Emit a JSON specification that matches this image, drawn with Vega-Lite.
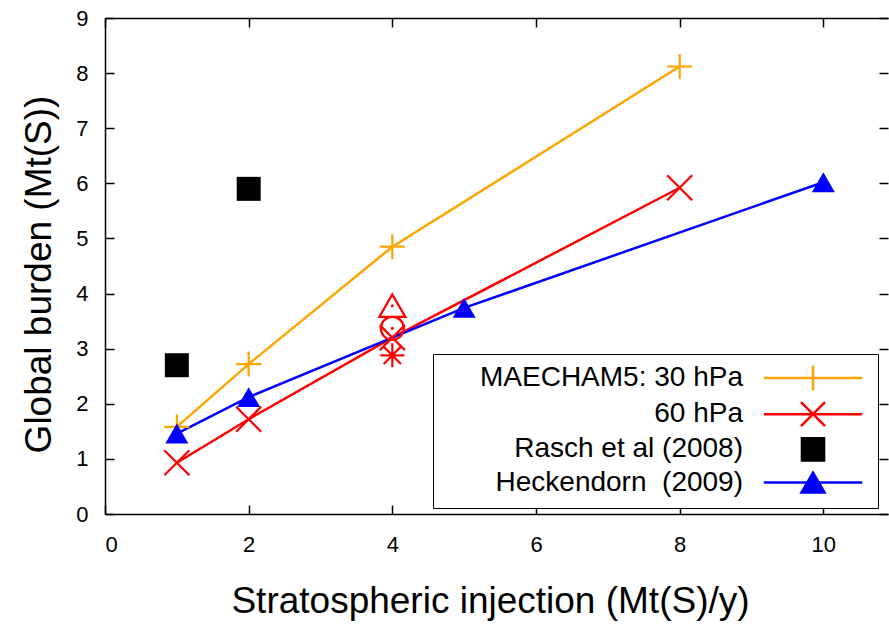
{
  "$schema": "https://vega.github.io/schema/vega-lite/v6.json",
  "width": 783,
  "height": 496,
  "autosize": "none",
  "padding": {"left": 105, "top": 18, "right": 1, "bottom": 114},
  "background": "white",
  "config": {
    "view": {"stroke": null},
    "font": "Liberation Sans",
    "axis": {
      "grid": false,
      "domainColor": "black",
      "tickColor": "black",
      "domainWidth": 1.5,
      "tickWidth": 1.5,
      "labelColor": "black",
      "titleColor": "black",
      "labelFont": "Liberation Sans",
      "titleFont": "Liberation Sans",
      "titleFontWeight": "normal"
    }
  },
  "datasets": {
    "main": [
      {"series": "MAECHAM5: 30 hPa", "x": 1, "y": 1.58},
      {"series": "MAECHAM5: 30 hPa", "x": 2, "y": 2.72},
      {"series": "MAECHAM5: 30 hPa", "x": 4, "y": 4.85},
      {"series": "MAECHAM5: 30 hPa", "x": 8, "y": 8.12},
      {"series": "60 hPa", "x": 1, "y": 0.93},
      {"series": "60 hPa", "x": 2, "y": 1.72},
      {"series": "60 hPa", "x": 4, "y": 3.2},
      {"series": "60 hPa", "x": 8, "y": 5.92},
      {"series": "Rasch et al (2008)", "x": 1, "y": 2.7},
      {"series": "Rasch et al (2008)", "x": 2, "y": 5.9},
      {"series": "Heckendorn\u00a0 (2009)", "x": 1, "y": 1.46},
      {"series": "Heckendorn\u00a0 (2009)", "x": 2, "y": 2.12},
      {"series": "Heckendorn\u00a0 (2009)", "x": 5, "y": 3.74},
      {"series": "Heckendorn\u00a0 (2009)", "x": 10, "y": 6.02}
    ],
    "sens": [
      {"marker": "triangle", "x": 4, "y": 3.78},
      {"marker": "circle", "x": 4, "y": 3.37},
      {"marker": "asterisk", "x": 4, "y": 2.88}
    ]
  },
  "layer": [
    {
      "data": {"name": "main"},
      "transform": [{"filter": "datum.series !== 'Rasch et al (2008)'"}],
      "mark": {"type": "line", "strokeWidth": 2.5},
      "encoding": {
        "x": {
          "field": "x", "type": "quantitative",
          "scale": {"domain": [0, 10.9], "nice": false, "zero": false},
          "axis": {
            "orient": "bottom", "values": [0, 2, 4, 6, 8, 10], "tickSize": -9,
            "labelFontSize": 22, "labelPadding": 29,
            "title": "Stratospheric injection (Mt(S)/y)", "titleFontSize": 37,
            "titleX": 385, "titleY": 98, "titleBaseline": "alphabetic", "titleAlign": "center"
          }
        },
        "y": {
          "field": "y", "type": "quantitative",
          "scale": {"domain": [0, 9], "nice": false, "zero": false},
          "axis": {
            "orient": "left", "values": [0, 1, 2, 3, 4, 5, 6, 7, 8, 9], "tickSize": -9,
            "labelFontSize": 22, "labelPadding": 26,
            "title": "Global burden (Mt(S))", "titleFontSize": 37,
            "titleX": -55, "titleY": 256, "titleAngle": -90, "titleBaseline": "alphabetic", "titleAlign": "center"
          }
        },
        "color": {
          "field": "series", "type": "nominal",
          "scale": {
            "domain": ["MAECHAM5: 30 hPa", "60 hPa", "Rasch et al (2008)", "Heckendorn\u00a0 (2009)"],
            "range": ["#ffa500", "#ff0000", "#000000", "#0000ff"]
          },
          "legend": {
            "orient": "none", "legendX": 328, "legendY": 336, "title": null,
            "padding": 10, "strokeColor": "black", "fillColor": "white",
            "labelFont": "Liberation Sans", "labelFontSize": 28, "labelColor": "black",
            "labelAlign": "right", "labelLimit": 400, "labelOffset": -84,
            "symbolOffset": 356, "symbolSize": 576, "symbolStrokeWidth": 2.5,
            "rowPadding": 1.2,
            "encode": {
              "symbols": {
                "update": {
                  "shape": {"signal": "datum.value==='MAECHAM5: 30 hPa' ? 'M-4.1,0H4.1M0,-1.05V1.05' : datum.value==='60 hPa' ? 'M-4.1,0H4.1M-1,-1L1,1M-1,1L1,-1' : datum.value==='Rasch et al (2008)' ? 'M-0.92,-0.92H0.92V0.92H-0.92Z' : 'M-4.1,0H4.1M0,-0.83L0.96,0.83L-0.96,0.83Z'"},
                  "fill": {"signal": "datum.value==='Rasch et al (2008)' ? '#000000' : datum.value==='MAECHAM5: 30 hPa' ? 'transparent' : datum.value==='60 hPa' ? 'transparent' : '#0000ff'"},
                  "stroke": {"signal": "datum.value==='MAECHAM5: 30 hPa' ? '#ffa500' : datum.value==='60 hPa' ? '#ff0000' : datum.value==='Rasch et al (2008)' ? '#000000' : '#0000ff'"},
                  "strokeWidth": {"value": 2.5},
                  "opacity": {"value": 1}
                }
              }
            }
          }
        }
      }
    },
    {
      "data": {"name": "main"},
      "transform": [{"filter": "datum.series === 'MAECHAM5: 30 hPa'"}],
      "mark": {"type": "point", "shape": "M-1,0H1M0,-1V1", "size": 625, "filled": false, "color": "#ffa500", "strokeWidth": 2.2, "opacity": 1},
      "encoding": {
        "x": {"field": "x", "type": "quantitative", "axis": {"orient": "top", "values": [0, 2, 4, 6, 8, 10], "tickSize": -9, "labels": false, "title": null}},
        "y": {"field": "y", "type": "quantitative", "axis": {"orient": "right", "values": [0, 1, 2, 3, 4, 5, 6, 7, 8, 9], "tickSize": -9, "labels": false, "title": null, "domain": false}}
      }
    },
    {
      "data": {"name": "main"},
      "transform": [{"filter": "datum.series === '60 hPa'"}],
      "mark": {"type": "point", "shape": "M-1,-1L1,1M-1,1L1,-1", "size": 625, "filled": false, "color": "#ff0000", "strokeWidth": 2.2, "opacity": 1},
      "encoding": {
        "x": {"field": "x", "type": "quantitative", "axis": null},
        "y": {"field": "y", "type": "quantitative", "axis": null}
      }
    },
    {
      "data": {"name": "main"},
      "transform": [{"filter": "datum.series === 'Rasch et al (2008)'"}],
      "mark": {"type": "point", "shape": "square", "size": 576, "filled": true, "color": "#000000", "opacity": 1},
      "encoding": {
        "x": {"field": "x", "type": "quantitative", "axis": null},
        "y": {"field": "y", "type": "quantitative", "axis": null}
      }
    },
    {
      "data": {"name": "main"},
      "transform": [{"filter": "datum.series === 'Heckendorn\u00a0 (2009)'"}],
      "mark": {"type": "point", "shape": "triangle-up", "size": 529, "filled": true, "color": "#0000ff", "opacity": 1},
      "encoding": {
        "x": {"field": "x", "type": "quantitative", "axis": null},
        "y": {"field": "y", "type": "quantitative", "axis": null}
      }
    },
    {
      "data": {"name": "sens"},
      "transform": [{"filter": "datum.marker === 'triangle'"}],
      "mark": {"type": "point", "shape": "triangle-up", "size": 676, "filled": false, "color": "#ff0000", "strokeWidth": 2.2, "opacity": 1},
      "encoding": {
        "x": {"field": "x", "type": "quantitative", "axis": null},
        "y": {"field": "y", "type": "quantitative", "axis": null}
      }
    },
    {
      "data": {"name": "sens"},
      "transform": [{"filter": "datum.marker === 'circle'"}],
      "mark": {"type": "point", "shape": "circle", "size": 529, "filled": false, "color": "#ff0000", "strokeWidth": 2.2, "opacity": 1},
      "encoding": {
        "x": {"field": "x", "type": "quantitative", "axis": null},
        "y": {"field": "y", "type": "quantitative", "axis": null}
      }
    },
    {
      "data": {"name": "sens"},
      "transform": [{"filter": "datum.marker === 'asterisk'"}],
      "mark": {"type": "point", "shape": "M-1,0H1M0,-1V1M-0.72,-0.72L0.72,0.72M-0.72,0.72L0.72,-0.72", "size": 576, "filled": false, "color": "#ff0000", "strokeWidth": 2.2, "opacity": 1},
      "encoding": {
        "x": {"field": "x", "type": "quantitative", "axis": null},
        "y": {"field": "y", "type": "quantitative", "axis": null}
      }
    },
    {
      "data": {"name": "sens"},
      "transform": [{"filter": "datum.marker !== 'asterisk'"}],
      "mark": {"type": "point", "shape": "circle", "size": 9, "filled": true, "color": "#ff0000", "opacity": 1},
      "encoding": {
        "x": {"field": "x", "type": "quantitative", "axis": null},
        "y": {"field": "y", "type": "quantitative", "axis": null}
      }
    }
  ]
}
